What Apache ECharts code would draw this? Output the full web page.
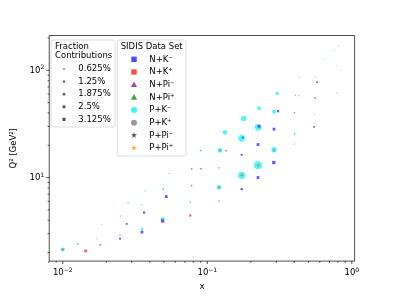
<!DOCTYPE html>
<html><head><meta charset="utf-8">
<script src="https://cdn.jsdelivr.net/npm/echarts@6/dist/echarts.min.js"></script>
<style>html,body{margin:0;padding:0;background:#fff}#c{width:394px;height:296px}</style>
</head><body><div id="c"></div>
<script>
// ---------------- data (x, Q^2, fraction contribution %) ----------------
const pKmX    = [0.0100,0.0127,0.0249,0.0251,0.0283,0.0353,0.0352,0.0370,0.0491,0.0496,0.0763,0.0780,0.0900,0.1205,0.1225,0.1326,0.1730,0.1730,0.1786,0.2244,0.2250,0.2280,0.2896,0.2900,0.3050,0.4026,0.7530];
const pKmQ2   = [2.13,2.42,2.90,4.39,5.79,3.31,5.60,7.48,4.16,7.80,5.88,12.1,17.9,8.10,17.9,26.4,10.5,23.2,35.6,13.0,29.4,44.3,18.2,41.0,60.9,25.9,152];
const pKmFrac = [4.9,1.0,1.0,0.7,0.7,2.4,0.7,0.55,3.4,0.8,0.8,1.0,1.0,6.8,6.8,6.8,16.4,13.8,8.7,19.8,13.8,4.9,8.7,4.9,3.4,1.0,0.45];

const pKpX    = [0.0100,0.0127,0.0496,0.0763,0.0780,0.0900,0.1205,0.1225,0.1730,0.2244,0.2896];
const pKpQ2   = [2.13,2.42,7.80,5.88,12.1,17.9,8.10,17.9,10.5,13.0,18.2];
const pKpFrac = [2.2,0.7,0.5,0.5,0.7,0.7,1.5,1.5,2.2,2.2,1.5];

const pPimX    = [0.01716,0.01858,0.0543,0.429,0.432,0.560,0.550,0.780,0.806,0.548,0.400];
const pPimQ2   = [2.69,3.68,10.96,58.0,86.2,86.9,39.0,61.8,169,29.8,40.4];
const pPimFrac = [0.45,0.45,0.6,0.6,0.45,0.45,0.45,0.45,0.45,0.5,0.5];

const pPipX    = [0.619,0.643,0.780,0.830,0.410];
const pPipQ2   = [125.5,125.5,110,100,24.5];
const pPipFrac = [0.45,0.45,0.45,0.45,0.5];

const nKmX    = [0.0249,0.0277,0.0353,0.0365,0.0491,0.0520,0.1730,0.2244,0.1730,0.2885,0.2244,0.1760,0.2895,0.2280,0.3086,0.548,0.574,0.556];
const nKmQ2   = [2.69,3.70,3.10,4.72,3.95,6.64,7.8,10.0,16.3,13.8,20.3,23.6,28.3,30.0,41.6,29.8,77.5,55.2];
const nKmFrac = [1.0,1.0,2.4,1.5,3.4,2.4,1.5,2.4,1.2,3.4,2.4,1.0,2.4,2.4,1.5,0.6,0.7,0.6];

const nKpX    = [0.0144,0.01817,0.0763,0.0780,0.0904,0.1205,0.1205,0.1347];
const nKpQ2   = [2.07,2.36,4.43,8.44,12.1,6.04,12.3,17.8];
const nKpFrac = [2.4,0.8,1.2,0.6,0.8,0.45,0.45,0.6];

const nPimX    = [0.0249,0.0491,0.0520,0.0763,0.400,0.400,0.548,0.574,0.0353];
const nPimQ2   = [2.69,3.95,6.64,4.43,20.6,40.4,29.8,77.5,3.10];
const nPimFrac = [0.6,2.2,1.2,0.8,0.6,0.6,0.6,0.6,1.0];

const nPipX    = [0.407,0.1205,0.2896,0.4026];
const nPipQ2   = [58.8,8.1,17.5,25.2];
const nPipFrac = [0.6,0.5,0.5,0.5];

const fracLegendLabels = ['0.625%','1.25%','1.875%','2.5%','3.125%'];
const fracLegendValues = [0.625,1.25,1.875,2.5,3.125];

const setNames = ['N+K⁻','N+K⁺','N+Pi⁻','N+Pi⁺','P+K⁻','P+K⁺','P+Pi⁻','P+Pi⁺'];

const xMajorTicks = [0.01,0.1,1];
const xMinorTicks = [0.008,0.009,0.02,0.03,0.04,0.05,0.06,0.07,0.08,0.09,0.2,0.3,0.4,0.5,0.6,0.7,0.8,0.9];
const yMajorTicks = [10,100];
const yMinorTicks = [2,3,4,5,6,7,8,9,20,30,40,50,60,70,80,90,200];

// ---------------- styling ----------------
const X_MIN = 0.00806, X_MAX = 1.045, Y_MIN = 1.663, Y_MAX = 211.3;
const FONT = '"DejaVu Sans", sans-serif';
const STAR = 'path://M0,-1L0.2245,-0.309L0.951,-0.309L0.363,0.118L0.588,0.809L0,0.382L-0.588,0.809L-0.363,0.118L-0.951,-0.309L-0.2245,-0.309Z';
const style = {
  'N+K⁻': {c:'#4a4aff', s:'rect'},
  'N+K⁺': {c:'#ff4a4a', s:'rect'},
  'N+Pi⁻': {c:'#9c4ea4', s:'triangle'},
  'N+Pi⁺': {c:'#3ea83e', s:'triangle'},
  'P+K⁻': {c:'#3ff5f5', s:'circle'},
  'P+K⁺': {c:'#9a9a9a', s:'circle'},
  'P+Pi⁻': {c:'#555555', s:STAR},
  'P+Pi⁺': {c:'#f8b44a', s:STAR}
};
const sizeOf = f => 1.8*Math.sqrt(f);

function scatter(name, xs, ys, fs) {
  return {
    type:'scatter', name, symbol: style[name].s,
    data: xs.map((x,i)=>[x, ys[i], fs[i]]),
    symbolSize: v => sizeOf(v[2]),
    itemStyle:{color: style[name].c, opacity:0.9},
    silent:true, animation:false
  };
}

const tickData = [];
xMajorTicks.forEach(v=>tickData.push([v, 10, 0, 3]));
xMinorTicks.forEach(v=>tickData.push([v, 10, 0, 1.7]));
yMajorTicks.forEach(v=>tickData.push([0.1, v, 1, 3]));
yMinorTicks.forEach(v=>tickData.push([0.1, v, 1, 1.7]));

const tickSeries = {
  type:'custom', silent:true, animation:false, clip:false, z:10,
  data: tickData,
  renderItem: (params, api) => {
    const cs = params.coordSys;
    const p = api.coord([api.value(0), api.value(1)]);
    const len = api.value(3);
    let shape;
    if (api.value(2) === 0) {
      const yb = cs.y + cs.height;
      shape = {x1:p[0], y1:yb, x2:p[0], y2:yb+len};
    } else {
      shape = {x1:cs.x, y1:p[1], x2:cs.x-len, y2:p[1]};
    }
    return {type:'line', shape, style:{stroke:'#000', lineWidth:0.7}};
  }
};

function supLabel(v) {
  const l = Math.log10(v), e = Math.round(l);
  if (Math.abs(l-e) > 1e-6) return '';
  return '{b|10}{s|' + (e<0 ? '−'+(-e) : ''+e) + '}';
}
const richLab = {
  b:{fontSize:8.5, fontFamily:FONT, color:'#000'},
  s:{fontSize:6, fontFamily:FONT, color:'#000', padding:[0,0,5,0]}
};

// ---------------- legends (graphic) ----------------
const graphics = [];
const lfont = '8.5px ' + FONT;
graphics.push({type:'rect', shape:{x:51,y:40,width:64,height:87,r:2}, style:{fill:'rgba(255,255,255,0.85)', stroke:'#d6d6d6', lineWidth:0.8}, z:100});
graphics.push({type:'text', style:{text:'Fraction', x:55, y:46.7, font:lfont, fill:'#000', verticalAlign:'middle', textVerticalAlign:'middle'}, z:101});
graphics.push({type:'text', style:{text:'Contributions', x:55, y:56.2, font:lfont, fill:'#000', verticalAlign:'middle', textVerticalAlign:'middle'}, z:101});
fracLegendValues.forEach((f,i)=>{
  const y = 69 + i*12.6, d = sizeOf(f);
  graphics.push({type:'rect', shape:{x:64-d/2, y:y-d/2, width:d, height:d}, style:{fill:'#555'}, z:101});
  graphics.push({type:'text', style:{text:fracLegendLabels[i], x:78.3, y:y, font:lfont, fill:'#000', verticalAlign:'middle', textVerticalAlign:'middle'}, z:101});
});
graphics.push({type:'rect', shape:{x:117.3,y:40,width:68.7,height:116,r:2}, style:{fill:'rgba(255,255,255,0.85)', stroke:'#d6d6d6', lineWidth:0.8}, z:100});
graphics.push({type:'text', style:{text:'SIDIS Data Set', x:120.7, y:46.7, font:lfont, fill:'#000', verticalAlign:'middle', textVerticalAlign:'middle'}, z:101});
function starPts(cx, cy, r) {
  const pts = [];
  for (let k=0;k<10;k++){
    const a = -Math.PI/2 + k*Math.PI/5, rr = (k%2===0) ? r : r*0.4;
    pts.push([cx + rr*Math.cos(a), cy + rr*Math.sin(a)]);
  }
  return pts;
}
setNames.forEach((n,i)=>{
  const y = 59.3 + i*12.67, cx = 134, st = style[n];
  let el;
  if (st.s === 'rect') el = {type:'rect', shape:{x:cx-2.7,y:y-2.7,width:5.4,height:5.4}};
  else if (st.s === 'triangle') el = {type:'polygon', shape:{points:[[cx,y-3.2],[cx+3.1,y+2.4],[cx-3.1,y+2.4]]}};
  else if (st.s === 'circle') el = {type:'circle', shape:{cx, cy:y, r:3}};
  else el = {type:'polygon', shape:{points:starPts(cx, y, 3.2)}};
  el.style = {fill: st.c}; el.z = 101;
  graphics.push(el);
  graphics.push({type:'text', style:{text:n, x:149.3, y:y, font:lfont, fill:'#000', verticalAlign:'middle', textVerticalAlign:'middle'}, z:101});
});

const chart = echarts.init(document.getElementById('c'), null, {renderer:'canvas'});
chart.setOption({
  animation:false,
  backgroundColor:'#fff',
  grid:{left:49.25, right:39.4, top:35.5, bottom:32.6, show:true, borderColor:'#222', borderWidth:0.8, backgroundColor:'transparent'},
  xAxis:{type:'log', logBase:10, min:X_MIN, max:X_MAX,
    name:'x', nameLocation:'middle', nameGap:15,
    nameTextStyle:{fontSize:8.5, fontFamily:FONT, color:'#000'},
    axisLine:{show:false}, axisTick:{show:false}, splitLine:{show:false}, minorTick:{show:false},
    axisLabel:{formatter:supLabel, rich:richLab, margin:6, showMinLabel:false, showMaxLabel:true, hideOverlap:false}
  },
  yAxis:{type:'log', logBase:10, min:Y_MIN, max:Y_MAX,
    name:'Q² [GeV²]', nameLocation:'middle', nameGap:29,
    nameTextStyle:{fontSize:8.5, fontFamily:FONT, color:'#000'},
    axisLine:{show:false}, axisTick:{show:false}, splitLine:{show:false}, minorTick:{show:false},
    axisLabel:{formatter:supLabel, rich:richLab, margin:5, showMinLabel:false, showMaxLabel:false, hideOverlap:false}
  },
  graphic: graphics,
  series:[
    scatter('P+K⁻', pKmX, pKmQ2, pKmFrac),
    scatter('P+K⁺', pKpX, pKpQ2, pKpFrac),
    scatter('P+Pi⁻', pPimX, pPimQ2, pPimFrac),
    scatter('P+Pi⁺', pPipX, pPipQ2, pPipFrac),
    scatter('N+K⁻', nKmX, nKmQ2, nKmFrac),
    scatter('N+K⁺', nKpX, nKpQ2, nKpFrac),
    scatter('N+Pi⁻', nPimX, nPimQ2, nPimFrac),
    scatter('N+Pi⁺', nPipX, nPipQ2, nPipFrac),
    tickSeries
  ]
});
</script></body></html>
